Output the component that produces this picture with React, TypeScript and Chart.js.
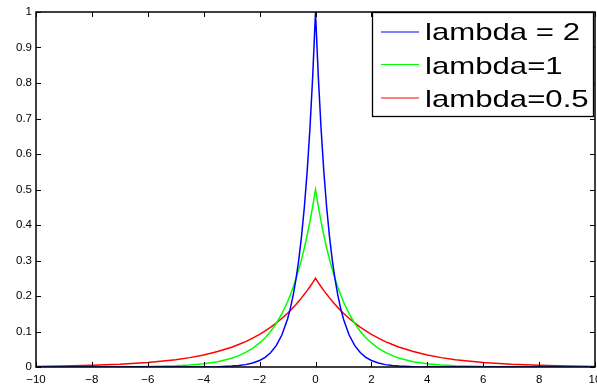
import React, { useEffect, useRef } from "react";
import { Chart, registerables } from "chart.js";

Chart.register(...registerables);

const xValues = [
  -10, -9, -8, -7, -6, -5, -4.5, -4, -3.5, -3, -2.75, -2.5, -2.25, -2, -1.8, -1.6, -1.4, -1.2,
  -1, -0.9, -0.8, -0.7, -0.6, -0.5, -0.4, -0.3, -0.2, -0.1, 0,
  0.1, 0.2, 0.3, 0.4, 0.5, 0.6, 0.7, 0.8, 0.9, 1,
  1.2, 1.4, 1.6, 1.8, 2, 2.25, 2.5, 2.75, 3, 3.5, 4, 4.5, 5, 6, 7, 8, 9, 10,
];

const lambda2 = [
  0, 0, 0, 0, 0, 0.00005, 0.0001, 0.0003, 0.0009, 0.0025, 0.0041, 0.0067, 0.0111, 0.0183, 0.0273, 0.0408, 0.0608, 0.0907,
  0.1353, 0.1653, 0.2019, 0.2466, 0.3012, 0.3679, 0.4493, 0.5488, 0.6703, 0.8187, 1,
  0.8187, 0.6703, 0.5488, 0.4493, 0.3679, 0.3012, 0.2466, 0.2019, 0.1653, 0.1353,
  0.0907, 0.0608, 0.0408, 0.0273, 0.0183, 0.0111, 0.0067, 0.0041, 0.0025, 0.0009, 0.0003, 0.0001, 0.00005, 0, 0, 0, 0, 0,
];

const lambda1 = [
  0.00002, 0.0001, 0.0002, 0.0005, 0.0012, 0.0034, 0.0056, 0.0092, 0.0151, 0.0249, 0.032, 0.041, 0.0527, 0.0677, 0.0826, 0.1009, 0.1233, 0.1506,
  0.1839, 0.2033, 0.2247, 0.2483, 0.2744, 0.3033, 0.3352, 0.3704, 0.4094, 0.4524, 0.5,
  0.4524, 0.4094, 0.3704, 0.3352, 0.3033, 0.2744, 0.2483, 0.2247, 0.2033, 0.1839,
  0.1506, 0.1233, 0.1009, 0.0826, 0.0677, 0.0527, 0.041, 0.032, 0.0249, 0.0151, 0.0092, 0.0056, 0.0034, 0.0012, 0.0005, 0.0002, 0.0001, 0.00002,
];

const lambdaHalf = [
  0.0017, 0.0028, 0.0046, 0.0075, 0.0124, 0.0205, 0.0264, 0.0338, 0.0435, 0.0558, 0.0632, 0.0716, 0.0812, 0.092, 0.1016, 0.1123, 0.1241, 0.1372,
  0.1516, 0.1594, 0.1676, 0.1762, 0.1852, 0.1947, 0.2047, 0.2152, 0.2262, 0.2378, 0.25,
  0.2378, 0.2262, 0.2152, 0.2047, 0.1947, 0.1852, 0.1762, 0.1676, 0.1594, 0.1516,
  0.1372, 0.1241, 0.1123, 0.1016, 0.092, 0.0812, 0.0716, 0.0632, 0.0558, 0.0435, 0.0338, 0.0264, 0.0205, 0.0124, 0.0075, 0.0046, 0.0028, 0.0017,
];

const seriesLabels = ["lambda = 2", "lambda=1", "lambda=0.5"];
const seriesColors = ["#0000ff", "#00ff00", "#ff0000"];
const seriesValues = [lambda2, lambda1, lambdaHalf];

const FONT = '"Liberation Sans", Arial, sans-serif';

const framePlugin = {
  id: "matlabFrame",
  afterDraw(chart: any) {
    const { ctx, chartArea } = chart;
    const { left, right, top, bottom } = chartArea;
    const xs = chart.scales.x;
    const ys = chart.scales.y;
    ctx.save();
    ctx.strokeStyle = "#000";
    ctx.lineWidth = 1;
    const tl = 5;
    ctx.beginPath();
    xs.ticks.forEach((t: any) => {
      const px = Math.round(xs.getPixelForValue(t.value)) + 0.5;
      ctx.moveTo(px, bottom);
      ctx.lineTo(px, bottom - tl);
      ctx.moveTo(px, top);
      ctx.lineTo(px, top + tl);
    });
    ys.ticks.forEach((t: any) => {
      const py = Math.round(ys.getPixelForValue(t.value)) + 0.5;
      ctx.moveTo(left, py);
      ctx.lineTo(left + tl, py);
      ctx.moveTo(right, py);
      ctx.lineTo(right - tl, py);
    });
    ctx.stroke();
    ctx.lineWidth = 1.5;
    ctx.strokeRect(left, top, right - left, bottom - top);

    // legend
    const bx = 372.5;
    const by = top + 0.5;
    const bw = 221;
    const bh = 104;
    ctx.fillStyle = "#fff";
    ctx.fillRect(bx, by, bw, bh);
    ctx.lineWidth = 1.3;
    ctx.strokeStyle = "#000";
    ctx.strokeRect(bx, by, bw, bh);
    ctx.font = `24px ${FONT}`;
    const sx = 155 / ctx.measureText(seriesLabels[0]).width;
    const baselines = [40, 73.5, 107];
    const lineYs = [32, 64.5, 98];
    seriesLabels.forEach((lab, i) => {
      ctx.strokeStyle = seriesColors[i];
      ctx.lineWidth = 1.2;
      ctx.beginPath();
      ctx.moveTo(381, lineYs[i]);
      ctx.lineTo(419, lineYs[i]);
      ctx.stroke();
      ctx.save();
      ctx.translate(425, baselines[i]);
      ctx.scale(sx, 1);
      ctx.fillStyle = "#000";
      ctx.textBaseline = "alphabetic";
      ctx.textAlign = "left";
      ctx.fillText(lab, 0, 0);
      ctx.restore();
    });
    ctx.restore();
  },
};

export default function App() {
  const ref = useRef<HTMLCanvasElement>(null);
  useEffect(() => {
    document.body.style.margin = "0";
    const canvas = ref.current!;
    const chart = new Chart(canvas, {
      type: "line",
      data: {
        datasets: seriesValues.map((vals, i) => ({
          label: seriesLabels[i],
          data: xValues.map((x, j) => ({ x, y: vals[j] })),
          borderColor: seriesColors[i],
          backgroundColor: seriesColors[i],
          borderWidth: 1.5,
          pointRadius: 0,
          tension: 0,
          fill: false,
        })),
      },
      options: {
        animation: false,
        responsive: false,
        maintainAspectRatio: false,
        layout: { padding: { top: 12, right: 2, left: 0, bottom: 0 } },
        plugins: { legend: { display: false }, tooltip: { enabled: false } },
        scales: {
          x: {
            type: "linear",
            min: -10,
            max: 10,
            grid: { display: false, drawTicks: false },
            border: { display: false },
            ticks: {
              stepSize: 2,
              color: "#000",
              padding: 6,
              maxRotation: 0,
              autoSkip: false,
              font: { family: FONT, size: 11.5 },
              callback: (v: any) => String(v).replace("-", "\u2212"),
            },
            afterFit: (s: any) => {
              s.height = 17;
              s.paddingLeft = 0;
              s.paddingRight = 0;
            },
          },
          y: {
            type: "linear",
            min: 0,
            max: 1,
            grid: { display: false, drawTicks: false },
            border: { display: false },
            ticks: {
              stepSize: 0.1,
              color: "#000",
              padding: 4,
              autoSkip: false,
              font: { family: FONT, size: 11.5 },
              callback: (v: any) => String(Number(Number(v).toFixed(1))),
            },
            afterFit: (s: any) => {
              s.width = 36;
              s.paddingTop = 0;
              s.paddingBottom = 0;
            },
          },
        },
      },
      plugins: [framePlugin],
    });
    return () => chart.destroy();
  }, []);
  return <canvas ref={ref} width={597} height={384} style={{ display: "block" }} />;
}
